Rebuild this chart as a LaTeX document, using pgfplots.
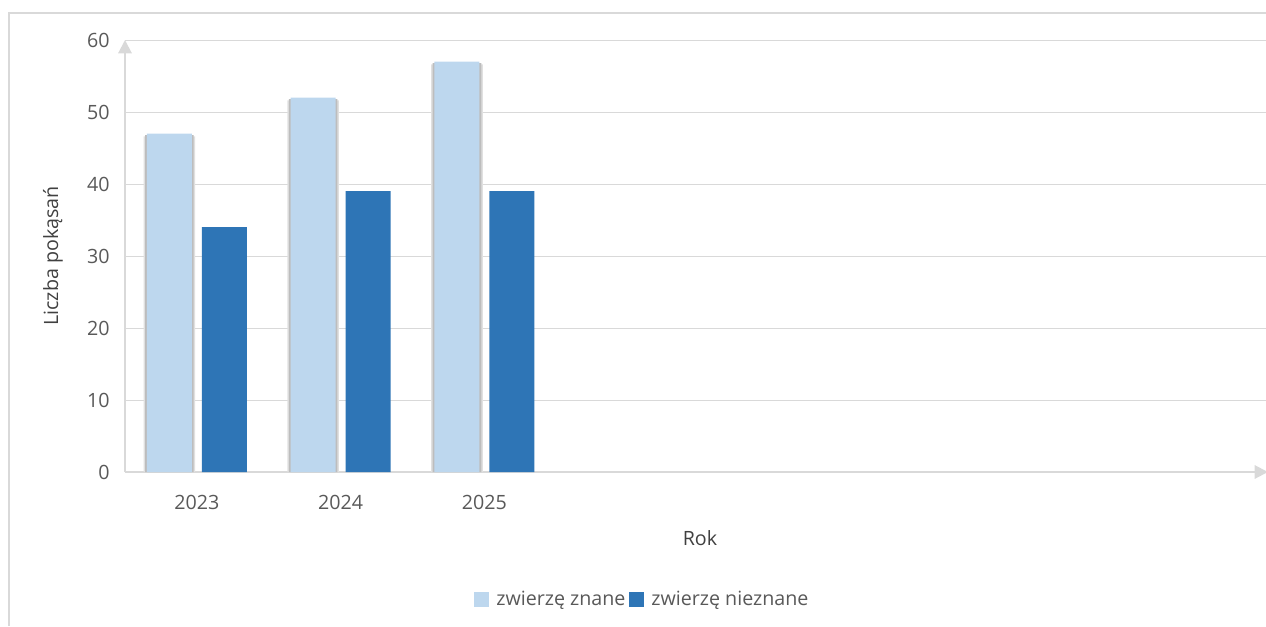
\documentclass[border=0pt]{standalone}
\usepackage{fontspec}
\setmainfont{Open Sans}
\usepackage{pgfplots}
\pgfplotsset{compat=1.18}
\usetikzlibrary{arrows.meta}
\definecolor{lb}{RGB}{189,215,238}
\definecolor{db}{RGB}{46,117,182}
\definecolor{gl}{RGB}{217,217,217}
\definecolor{tx}{RGB}{89,89,89}
\definecolor{lt}{RGB}{64,64,64}
\begin{document}
\begin{tikzpicture}
\path[use as bounding box] (0pt,0pt) rectangle (759.6pt,375.6pt);
\draw[gl, line width=1.2pt] (5.4pt,0pt)--(5.4pt,367.8pt)--(759.6pt,367.8pt);
\begin{axis}[
  at={(75pt,92.4pt)}, anchor=south west,
  scale only axis, width=685.8pt, height=259.2pt,
  ybar, bar width=27pt,
  xmin=-0.5, xmax=7.45, ymin=0, ymax=60,
  xtick={0,1,2}, xticklabels={2023,2024,2025},
  ytick={0,10,...,60},
  axis lines=left,
  axis line style={gl, line width=1.2pt, -{Triangle[width=8pt,length=8pt]}},
  major tick length=0pt,
  ymajorgrids, major grid style={gl, line width=0.6pt},
  tick label style={font=\fontsize{11.8}{14}\selectfont, text=tx, inner sep=0pt},
  /pgf/number format/assume math mode=true,
  yticklabel style={anchor=east, xshift=-9pt},
  xticklabel style={anchor=north, yshift=-13.5pt},
  label style={font=\fontsize{11.8}{14}\selectfont, text=lt},
  xlabel={Rok},
  ylabel={Liczba pokąsań},
  xlabel style={at={(axis description cs:0.503,-0.153)}, anchor=center},
  ylabel style={at={(axis description cs:-0.063,0.5)}, anchor=center},
  legend style={draw=none, fill=none, at={(axis description cs:0.453,-0.296)}, anchor=center,
    legend columns=-1, font=\fontsize{11.8}{14}\selectfont, text=tx,
    /tikz/every odd column/.append style={column sep=2.5pt},
    /tikz/every even column/.append style={column sep=0pt}},
  legend image code/.code={\fill[#1] (0pt,-4.5pt) rectangle (9pt,4.5pt);},
]
\addplot[fill=black!12, draw=none, bar width=31pt, bar shift=-16.5pt, forget plot] coordinates {(0,46.6) (1,51.6) (2,56.6)};
\addplot[fill=black!26, draw=none, bar width=29.2pt, bar shift=-16.5pt, forget plot] coordinates {(0,46.8) (1,51.8) (2,56.8)};
\addplot[fill=lb, draw=none, bar shift=-16.5pt] coordinates {(0,47) (1,52) (2,57)};
\addplot[fill=db, draw=none, bar shift=16.5pt] coordinates {(0,34) (1,39) (2,39)};
\legend{zwierzę znane, zwierzę nieznane}
\end{axis}
\end{tikzpicture}
\end{document}
